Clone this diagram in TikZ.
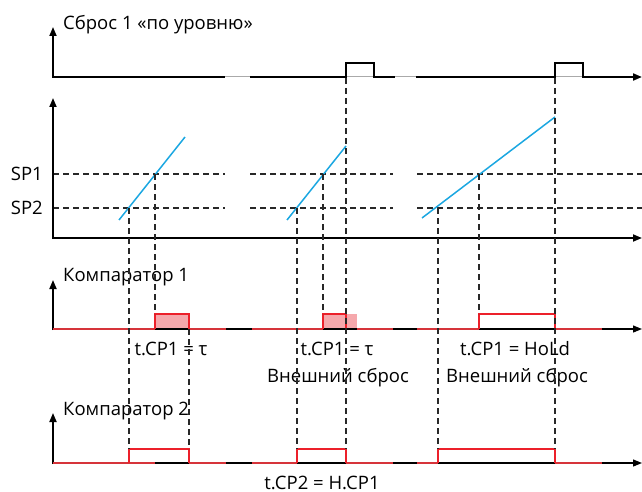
\documentclass[tikz,border=0pt]{standalone}
\usepackage{fontspec}
\setmainfont{Open Sans}
\newfontfamily\grk{Open Sans}
\usetikzlibrary{arrows.meta}
\definecolor{cyanline}{RGB}{27,167,225}
\definecolor{redline}{RGB}{236,32,42}
\definecolor{redbase}{RGB}{214,52,58}
\definecolor{pinkfill}{RGB}{245,168,172}
\definecolor{gapgray}{RGB}{170,170,170}
\definecolor{dashgray}{RGB}{40,40,40}
\begin{document}
\begin{tikzpicture}[x=1pt,y=-1pt,
  tip/.style={-{Triangle[length=9pt,width=7pt]}},
  axisv/.style={line width=1.8pt, tip},
  axish/.style={line width=1.2pt, black, tip},
  sig/.style={line width=2pt, black},
  thinaxis/.style={line width=1pt, gapgray},
  dsh/.style={line width=1.1pt, dashgray, dash pattern=on 6pt off 4pt},
  ramp/.style={line width=1.5pt, cyanline},
  rbase/.style={line width=2pt, redbase},
  rpulse/.style={line width=1.5pt, redline},
  lbl/.style={inner sep=0pt, font=\fontsize{18.5}{22}\selectfont}
]
\useasboundingbox (0,0) rectangle (642,492);

% ---------- Panel 1: reset signal ----------
\node[lbl, anchor=base west] (title) at (63,30) {Сброс 1 «по уровню»};
\draw[axisv] (53,78) -- (53,27);
\draw[thinaxis] (53,77) -- (640,77);
\draw[sig] (53,77) -- (225,77);
\draw[sig] (250,77) -- (346,77) -- (346,63) -- (374,63) -- (374,77) -- (395,77);
\draw[sig, tip] (416,77) -- (555,77) -- (555,63) -- (583,63) -- (583,77) -- (642,77);

% ---------- Panel 2: analog value ----------
\node[lbl, anchor=base east] (sp1) at (43,180) {SP1};
\node[lbl, anchor=base east] (sp2) at (43,214) {SP2};
\foreach \yy in {174,208}{
  \draw[dsh] (53,\yy) -- (225,\yy);
  \draw[dsh] (250,\yy) -- (393,\yy);
  \draw[dsh] (417,\yy) -- (642,\yy);
}
\draw[axisv] (53,239) -- (53,98);
\draw[line width=1.8pt, tip] (53,238) -- (642,238);
\draw[ramp] (119,220) -- (185,137);
\draw[ramp] (287,220) -- (346,146);
\draw[ramp] (422,218) -- (555,117);

% ---------- Panel 3: comparator 1 ----------
\node[lbl, anchor=base west] (c1) at (63,281) {Компаратор 1};
\fill[pinkfill] (155,314) rectangle (189,329);
\fill[pinkfill] (323,314) rectangle (357,329);
\draw[axisv] (53,330) -- (53,280);
\draw[axish] (53,329) -- (642,329);
\draw[rbase] (53,329) -- (155,329);
\draw[rbase] (189,329) -- (226,329);
\draw[rbase] (252,329) -- (323,329);
\draw[rbase] (357,329) -- (393,329);
\draw[rbase] (417,329) -- (479,329);
\draw[rbase] (555,329) -- (602,329);
\draw[rpulse] (155,329) -- (155,314) -- (189,314) -- (189,329);
\draw[rpulse] (323,329) -- (323,314) -- (346,314) -- (346,329);
\draw[rpulse] (479,329) -- (479,314) -- (555,314) -- (555,329);
\node[lbl, anchor=base] (t1) at (171,355) {t.CP1 = {\grk τ}};
\node[lbl, anchor=base] (t2) at (337,355) {t.CP1 = {\grk τ}};
\node[lbl, anchor=base] (e2) at (338,382) {Внешний сброс};
\node[lbl, anchor=base] (t3) at (515,355) {t.CP1 = HoLd};
\node[lbl, anchor=base] (e3) at (517,382) {Внешний сброс};

% ---------- Panel 4: comparator 2 ----------
\node[lbl, anchor=base west] (c2) at (63,415) {Компаратор 2};
\draw[axisv] (53,464) -- (53,413);
\draw[axish] (53,463) -- (642,463);
\draw[rbase] (53,463) -- (155,463);
\draw[rbase] (189,463) -- (226,463);
\draw[rbase] (252,463) -- (297,463);
\draw[rbase] (346,463) -- (393,463);
\draw[rbase] (417,463) -- (438,463);
\draw[rbase] (555,463) -- (602,463);
\draw[rpulse] (129,463) -- (129,449) -- (189,449) -- (189,463);
\draw[rpulse] (297,463) -- (297,449) -- (346,449) -- (346,463);
\draw[rpulse] (438,463) -- (438,449) -- (555,449) -- (555,463);
\node[lbl, anchor=base] (t4) at (322,489) {t.CP2 = H.CP1};

% ---------- vertical dashed guides ----------
\draw[dsh] (129,208) -- (129,449);
\draw[dsh] (155,174) -- (155,314);
\draw[dsh] (189,329) -- (189,449);
\draw[dsh] (297,208) -- (297,449);
\draw[dsh] (323,174) -- (323,314);
\draw[dsh] (346,78) -- (346,449);
\draw[dsh] (438,208) -- (438,449);
\draw[dsh] (479,174) -- (479,314);
\draw[dsh] (555,78) -- (555,449);
\end{tikzpicture}
\end{document}
